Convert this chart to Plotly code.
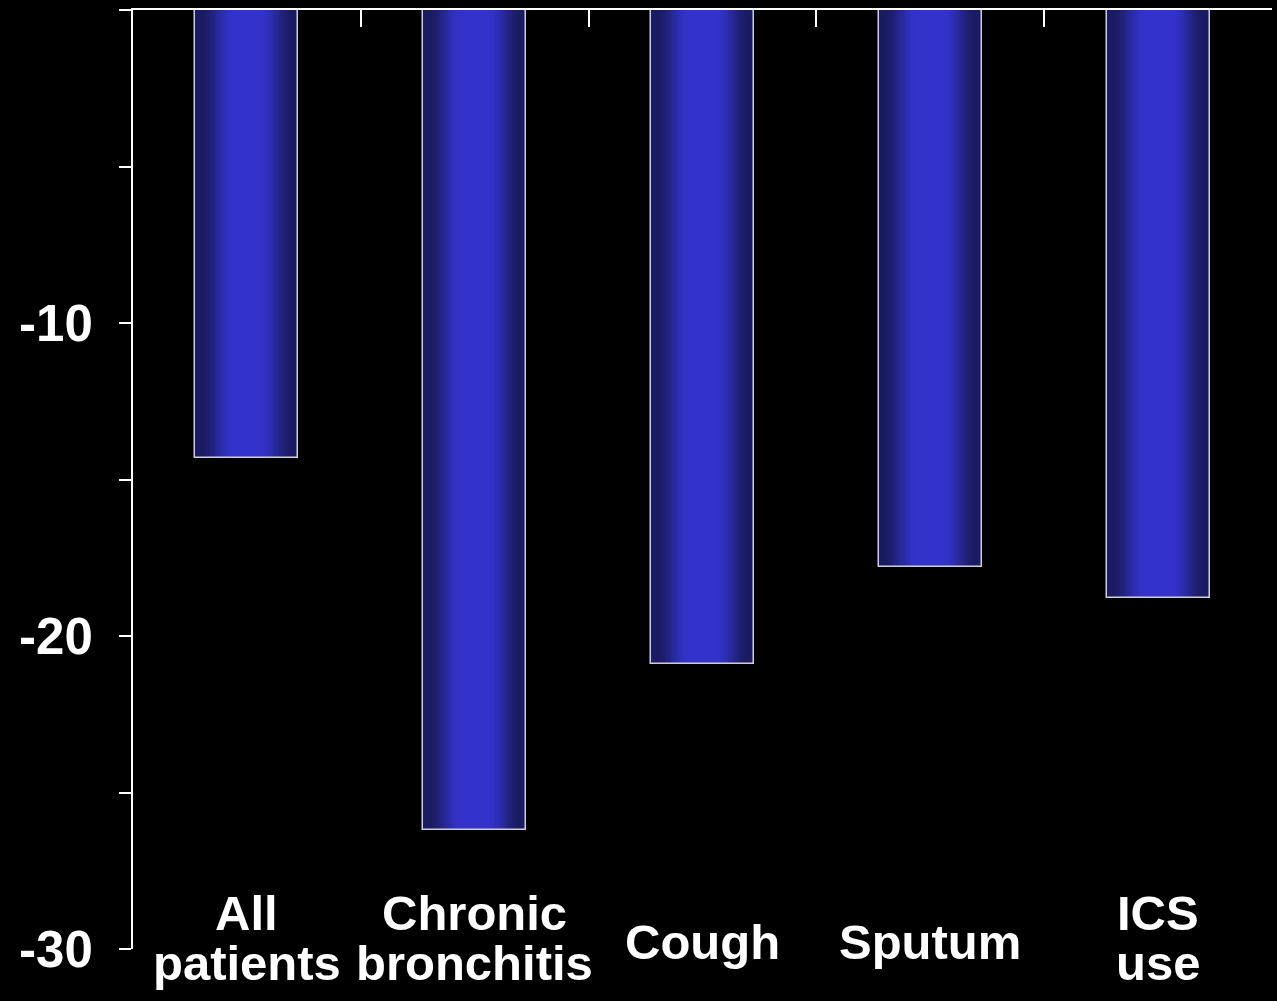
import plotly.graph_objects as go

categories = ["All patients", "Chronic bronchitis", "Cough", "Sputum", "ICS use"]
values = [-14.3, -26.2, -20.9, -17.8, -18.8]
label_lines = [["All", "patients"], ["Chronic", "bronchitis"], ["Cough"], ["Sputum"], ["ICS", "use"]]
y_tickvals = [0, -5, -10, -15, -20, -25, -30]
y_ticktext = ["", "", "-10", "", "-20", "", "-30"]

FONT = "Arial, Liberation Sans, sans-serif"
BAR_W = 0.452
DARK = (27, 27, 98)
BRIGHT = (51, 51, 204)
N = 30

fig = go.Figure()

# gradient built from stacked overlay bars (edge dark -> centre bright)
for k in range(N):
    h = 1 - k / N
    d = 1 - h
    t = min(1.0, max(0.0, (d - 0.08) / 0.65))
    t = t * t * (3 - 2 * t)
    c = tuple(int(round(DARK[i] + (BRIGHT[i] - DARK[i]) * t)) for i in range(3))
    fig.add_trace(go.Bar(
        x=categories, y=values, width=BAR_W * h,
        marker=dict(color="rgb(%d,%d,%d)" % c, line=dict(width=0)),
        showlegend=False, hoverinfo="skip",
    ))

# outline
fig.add_trace(go.Bar(
    x=categories, y=values, width=BAR_W,
    marker=dict(color="rgba(0,0,0,0)", line=dict(color="rgb(205,205,225)", width=1.5)),
    showlegend=False,
))

# category labels at bottom
def py(px):
    return (949 - px) / 939.0

annotations = []
for cat, lines in zip(categories, label_lines):
    if len(lines) == 2:
        ys = [py(913), py(963)]
    else:
        ys = [py(942)]
    for txt, yy in zip(lines, ys):
        annotations.append(dict(
            x=cat, xref="x", y=yy, yref="paper", text=txt, showarrow=False,
            xanchor="center", yanchor="middle",
            font=dict(family=FONT, size=49, color="white", weight="bold"),
        ))

fig.update_layout(
    width=1277, height=1001,
    margin=dict(l=133, r=5, t=10, b=52),
    paper_bgcolor="black", plot_bgcolor="black",
    barmode="overlay", bargap=0,
    font=dict(family=FONT, color="white"),
    annotations=annotations,
    xaxis=dict(
        type="category", side="top", showline=True, linecolor="white", linewidth=2,
        ticks="inside", tickson="boundaries", ticklen=17, tickwidth=2, tickcolor="white",
        showticklabels=False, showgrid=False, zeroline=False, range=[-0.5, 4.5],
    ),
    yaxis=dict(
        range=[-30, 0], showline=True, linecolor="white", linewidth=2,
        ticks="outside", ticklen=12, tickwidth=2, tickcolor="white",
        tickvals=y_tickvals, ticktext=y_ticktext,
        tickfont=dict(family=FONT, size=51, color="white", weight="bold"),
        ticklabelstandoff=16,
        showgrid=False, zeroline=False,
    ),
)

fig.write_html("out.html")
